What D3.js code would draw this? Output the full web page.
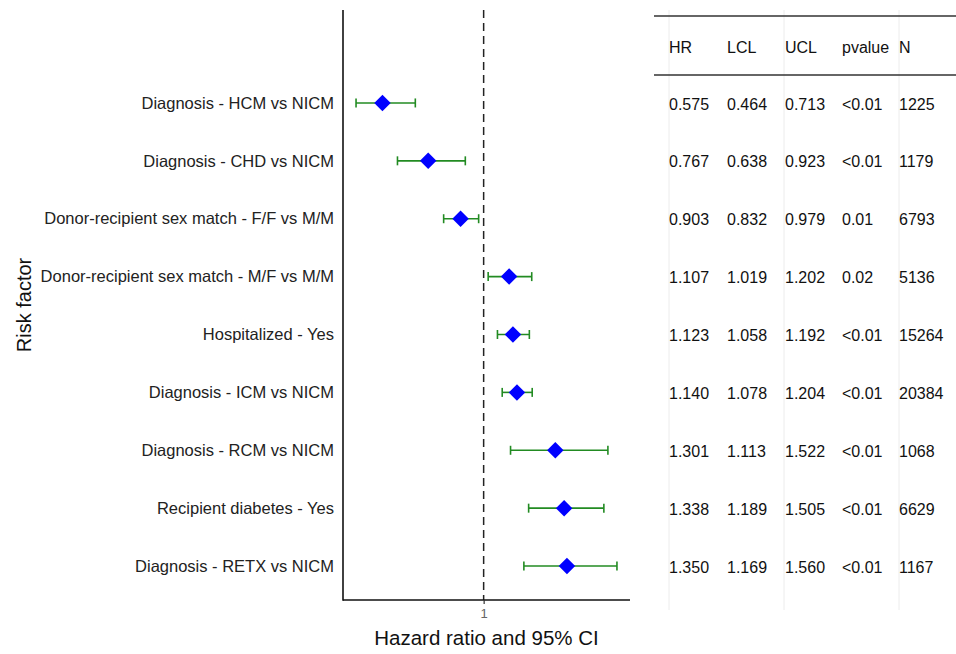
<!DOCTYPE html>
<html lang="en">
<head>
    <meta charset="UTF-8">
    <title>Forest plot</title>
    <script src="https://d3js.org/d3.v7.min.js"></script>
    <style>
        body { margin: 0; background: #fff; }
        text { font-family: "Liberation Sans", Arial, Helvetica, sans-serif; }
    </style>
</head>
<body>
    <svg id="chart"></svg>

    <script>
        const width = 956;
        const height = 654;

        // risk factors, top to bottom
        const factors = [
            "Diagnosis - HCM vs NICM",
            "Diagnosis - CHD vs NICM",
            "Donor-recipient sex match - F/F vs M/M",
            "Donor-recipient sex match - M/F vs M/M",
            "Hospitalized - Yes",
            "Diagnosis - ICM vs NICM",
            "Diagnosis - RCM vs NICM",
            "Recipient diabetes - Yes",
            "Diagnosis - RETX vs NICM"
        ];
        const hr = [0.575, 0.767, 0.903, 1.107, 1.123, 1.140, 1.301, 1.338, 1.350];
        const lcl = [0.464, 0.638, 0.832, 1.019, 1.058, 1.078, 1.113, 1.189, 1.169];
        const ucl = [0.713, 0.923, 0.979, 1.202, 1.192, 1.204, 1.522, 1.505, 1.560];
        const pvalue = ["<0.01", "<0.01", "0.01", "0.02", "<0.01", "<0.01", "<0.01", "<0.01", "<0.01"];
        const n = [1225, 1179, 6793, 5136, 15264, 20384, 1068, 6629, 1167];
        const tableCols = ["HR", "LCL", "UCL", "pvalue", "N"];
        const xTicks = [1];

        const rows = factors.map((f, i) => ({
            factor: f, hr: hr[i], lcl: lcl[i], ucl: ucl[i], p: pvalue[i], n: n[i]
        }));

        const svg = d3.select("#chart")
            .attr("width", width)
            .attr("height", height)
            .attr("viewBox", [0, 0, width, height]);

        const plot = {left: 343, right: 630, top: 10, bottom: 600};

        // ggplot-style 5% expansion around the CI range
        const lo = d3.min(lcl), hi = d3.max(ucl), pad = (hi - lo) * 0.05;
        const x = d3.scaleLinear()
            .domain([lo - pad, hi + pad])
            .range([plot.left, plot.right]);

        const y = d3.scaleBand()
            .domain(factors)
            .range([74, 595]);
        const yc = d => y(d) + y.bandwidth() / 2;

        // reference line at HR = 1
        svg.append("line")
            .attr("x1", x(1)).attr("x2", x(1))
            .attr("y1", plot.top).attr("y2", plot.bottom)
            .attr("stroke", "#222")
            .attr("stroke-width", 1.5)
            .attr("stroke-dasharray", "8,5");

        // axes
        svg.append("line")
            .attr("x1", plot.left).attr("x2", plot.left)
            .attr("y1", plot.top).attr("y2", plot.bottom + 0.75)
            .attr("stroke", "#111").attr("stroke-width", 1.6);
        svg.append("line")
            .attr("x1", plot.left).attr("x2", plot.right)
            .attr("y1", plot.bottom).attr("y2", plot.bottom)
            .attr("stroke", "#111").attr("stroke-width", 1.6);

        const xAxis = svg.append("g")
            .attr("transform", `translate(0,${plot.bottom})`)
            .call(d3.axisBottom(x).tickValues(xTicks).tickSize(4).tickFormat(d3.format("d")));
        xAxis.select(".domain").remove();
        xAxis.selectAll(".tick line").attr("stroke", "#333").attr("stroke-width", 1.2);
        xAxis.selectAll(".tick text")
            .attr("fill", "#666")
            .attr("font-size", 13)
            .attr("dy", "0.85em");

        svg.append("text")
            .attr("x", (plot.left + plot.right) / 2)
            .attr("y", 645)
            .attr("text-anchor", "middle")
            .attr("font-size", 20.5)
            .attr("fill", "#111")
            .text("Hazard ratio and 95% CI");

        svg.append("text")
            .attr("transform", `translate(31,${305}) rotate(-90)`)
            .attr("text-anchor", "middle")
            .attr("font-size", 20)
            .attr("fill", "#111")
            .text("Risk factor");

        // factor labels
        svg.append("g")
            .selectAll("text")
            .data(rows)
            .join("text")
            .attr("x", 334)
            .attr("y", d => yc(d.factor))
            .attr("dy", "0.35em")
            .attr("text-anchor", "end")
            .attr("font-size", 16.5)
            .attr("fill", "#222")
            .text(d => d.factor);

        // confidence intervals
        const ci = svg.append("g")
            .attr("stroke", "#228B22")
            .attr("stroke-width", 1.6);
        ci.selectAll("line.bar")
            .data(rows)
            .join("line")
            .attr("class", "bar")
            .attr("x1", d => x(d.lcl)).attr("x2", d => x(d.ucl))
            .attr("y1", d => yc(d.factor)).attr("y2", d => yc(d.factor));
        ["lcl", "ucl"].forEach(k => {
            ci.selectAll("line.cap-" + k)
                .data(rows)
                .join("line")
                .attr("class", "cap-" + k)
                .attr("x1", d => x(d[k])).attr("x2", d => x(d[k]))
                .attr("y1", d => yc(d.factor) - 4.5).attr("y2", d => yc(d.factor) + 4.5);
        });

        // point estimates
        const diamond = d3.symbol().type(d3.symbolSquare).size(136);
        svg.append("g")
            .selectAll("path")
            .data(rows)
            .join("path")
            .attr("d", diamond)
            .attr("fill", "#0000FF")
            .attr("transform", d => `translate(${x(d.hr)},${yc(d.factor)}) rotate(45)`);

        // table
        const colX = [669, 727, 785, 842, 899];
        const table = svg.append("g");

        table.selectAll("line.vgrid")
            .data([669, 784, 899])
            .join("line")
            .attr("class", "vgrid")
            .attr("x1", d => d).attr("x2", d => d)
            .attr("y1", 10).attr("y2", 610)
            .attr("stroke", "#ececec")
            .attr("stroke-width", 1);

        table.selectAll("line.hrule")
            .data([16, 75])
            .join("line")
            .attr("class", "hrule")
            .attr("x1", 654).attr("x2", width)
            .attr("y1", d => d).attr("y2", d => d)
            .attr("stroke", "#333")
            .attr("stroke-width", 1.6);

        table.selectAll("text.head")
            .data(tableCols)
            .join("text")
            .attr("class", "head")
            .attr("x", (d, i) => colX[i])
            .attr("y", 47)
            .attr("dy", "0.35em")
            .attr("font-size", 16)
            .attr("fill", "#111")
            .text(d => d);

        const cells = rows.flatMap(r => [
            d3.format(".3f")(r.hr), d3.format(".3f")(r.lcl), d3.format(".3f")(r.ucl), r.p, String(r.n)
        ].map((t, j) => ({t, j, factor: r.factor})));

        table.selectAll("text.cell")
            .data(cells)
            .join("text")
            .attr("class", "cell")
            .attr("x", d => colX[d.j])
            .attr("y", d => yc(d.factor) + 1)
            .attr("dy", "0.35em")
            .attr("font-size", 16)
            .attr("fill", "#111")
            .text(d => d.t);
    </script>
</body>
</html>
